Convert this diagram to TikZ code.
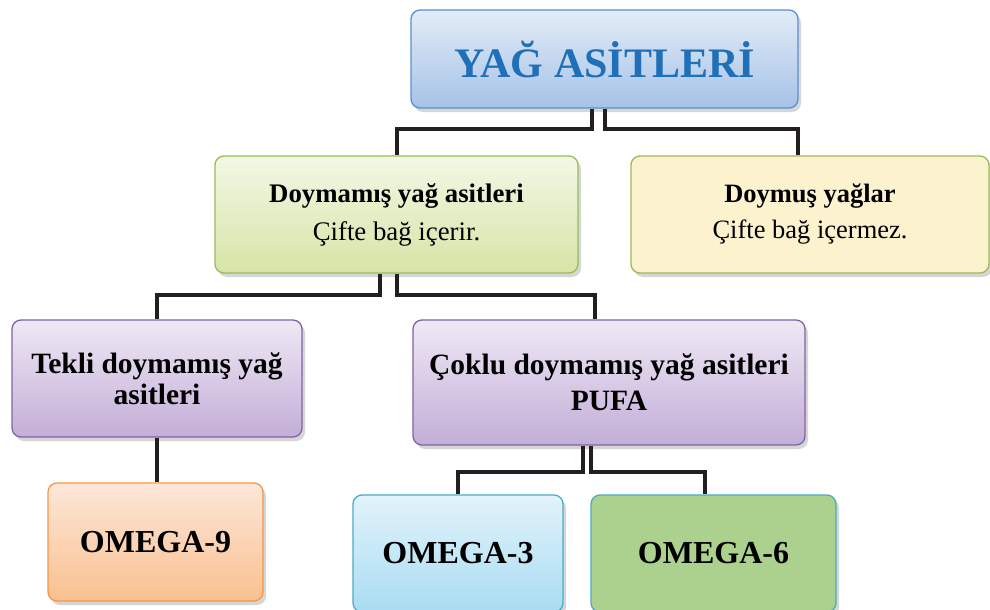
\documentclass[tikz,border=0pt]{standalone}
\usepackage{fontspec}
\setmainfont{Liberation Serif}
\usetikzlibrary{shadows,calc}
\definecolor{lineblack}{HTML}{231F20}
\definecolor{titleblue}{HTML}{1F70B8}
\definecolor{HTMLblueb}{HTML}{5B8ED0}
\definecolor{HTMLbluet}{HTML}{E2ECF7}
\definecolor{HTMLblued}{HTML}{A6C2E7}
\definecolor{greenb}{HTML}{9BBB59}
\definecolor{greent}{HTML}{F3F7E6}
\definecolor{greend}{HTML}{D6E5A6}
\definecolor{yellowf}{HTML}{FDF2CE}
\definecolor{purpleb}{HTML}{8064A2}
\definecolor{purplet}{HTML}{EFE8F5}
\definecolor{purpled}{HTML}{C3AED7}
\definecolor{orangeb}{HTML}{F79646}
\definecolor{oranget}{HTML}{FDE7DA}
\definecolor{oranged}{HTML}{F9C08F}
\definecolor{cyanb}{HTML}{4BACC6}
\definecolor{cyant}{HTML}{E2F3FB}
\definecolor{cyand}{HTML}{A9DCF2}
\definecolor{leaf}{HTML}{ACD08D}
\tikzset{
  box/.style={rounded corners=9pt, line width=1.3pt, align=center, inner sep=2pt,
    drop shadow={shadow xshift=3pt, shadow yshift=-4pt, opacity=0.35, fill=black!45}},
  conn/.style={line width=4pt, draw=lineblack, line join=miter},
  bluebox/.style={box, draw=HTMLblueb, top color=HTMLbluet, bottom color=HTMLblued},
  greenbox/.style={box, draw=greenb, top color=greent, bottom color=greend},
  yellowbox/.style={box, draw=greenb, fill=yellowf},
  purplebox/.style={box, draw=purpleb, top color=purplet, bottom color=purpled},
  orangebox/.style={box, draw=orangeb, top color=oranget, bottom color=oranged},
  cyanbox/.style={box, draw=cyanb, top color=cyant, bottom color=cyand},
  leafbox/.style={box, draw=cyanb, fill=leaf},
  omegatext/.style={font=\fontsize{32}{36}\selectfont\bfseries},
}
\begin{document}
\begin{tikzpicture}[x=1pt,y=-1pt]
\useasboundingbox (0,0) rectangle (990,610);
\fill[white] (0,0) rectangle (990,610);
\node[bluebox, minimum width=387pt, minimum height=98pt, text=titleblue,
  font=\fontsize{42}{48}\selectfont\bfseries] (top) at (604.5,59) {YAĞ ASİTLERİ};
\node[greenbox, minimum width=363pt, minimum height=117pt,
  font=\fontsize{26.8}{38}\selectfont] (dm) at (396.5,214.5) {\textbf{Doymamış yağ asitleri}\\Çifte bağ içerir.};
\node[yellowbox, minimum width=358pt, minimum height=117pt,
  font=\fontsize{26.5}{36}\selectfont] (ds) at (810,214.5) {\textbf{Doymuş yağlar}\\Çifte bağ içermez.};
\node[purplebox, minimum width=290pt, minimum height=117pt,
  font=\fontsize{29.5}{31}\selectfont\bfseries] (tk) at (157,378.5) {Tekli doymamış yağ\\asitleri};
\node[purplebox, minimum width=392pt, minimum height=125pt,
  font=\fontsize{29.5}{36}\selectfont\bfseries] (ck) at (609,382.5) {Çoklu doymamış yağ asitleri\\PUFA};
\node[orangebox, omegatext, minimum width=215pt, minimum height=118pt] (o9) at (155.5,542) {OMEGA-9};
\node[cyanbox, omegatext, minimum width=210pt, minimum height=117pt] (o3) at (458,553.5) {OMEGA-3};
\node[leafbox, omegatext, minimum width=245pt, minimum height=117pt] (o6) at (713.5,553.5) {OMEGA-6};
% connectors
\draw[conn] ([xshift=-12.5pt]top.south) -- ++(0,20) -| (dm.north);
\draw[conn] (top.south) -- ++(0,20) -| ([xshift=-12pt]ds.north);
\draw[conn] ([xshift=-16.5pt]dm.south) -- ++(0,21) -| (tk.north);
\draw[conn] (dm.south) -- ++(0,21) -| ([xshift=-14pt]ck.north);
\draw[conn] (tk.south) -- (o9.north -| tk.south);
\draw[conn] ([xshift=-26pt]ck.south) -- ++(0,26) -| (o3.north);
\draw[conn] ([xshift=-18pt]ck.south) -- ++(0,26) -| ([xshift=-8.5pt]o6.north);
\end{tikzpicture}
\end{document}
